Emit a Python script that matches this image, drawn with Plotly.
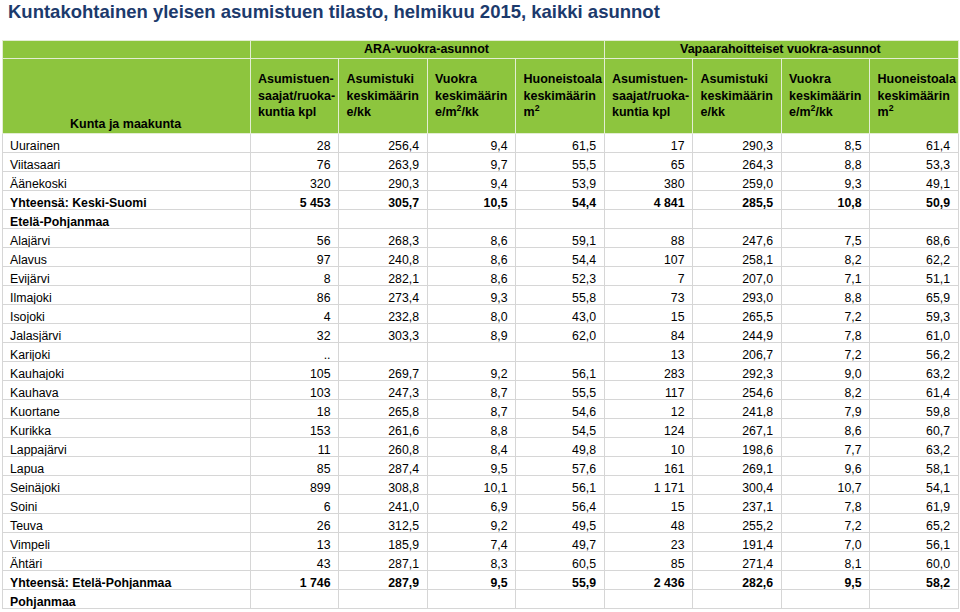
import plotly.graph_objects as go
import plotly.io as pio

W, H = 960, 612

names = ["Uurainen", "Viitasaari", "Äänekoski", "Yhteensä: Keski-Suomi", "Etelä-Pohjanmaa",
         "Alajärvi", "Alavus", "Evijärvi", "Ilmajoki", "Isojoki", "Jalasjärvi", "Karijoki",
         "Kauhajoki", "Kauhava", "Kuortane", "Kurikka", "Lappajärvi", "Lapua", "Seinäjoki",
         "Soini", "Teuva", "Vimpeli", "Ähtäri", "Yhteensä: Etelä-Pohjanmaa", "Pohjanmaa"]
bold_rows = [False, False, False, True, True,
             False, False, False, False, False, False, False,
             False, False, False, False, False, False, False,
             False, False, False, False, True, True]

ara_kpl = [28, 76, 320, 5453, None, 56, 97, 8, 86, 4, 32, "..", 105, 103, 18, 153, 11, 85, 899, 6, 26, 13, 43, 1746, None]
ara_tuki = [256.4, 263.9, 290.3, 305.7, None, 268.3, 240.8, 282.1, 273.4, 232.8, 303.3, None, 269.7, 247.3, 265.8, 261.6, 260.8, 287.4, 308.8, 241.0, 312.5, 185.9, 287.1, 287.9, None]
ara_vuokra = [9.4, 9.7, 9.4, 10.5, None, 8.6, 8.6, 8.6, 9.3, 8.0, 8.9, None, 9.2, 8.7, 8.7, 8.8, 8.4, 9.5, 10.1, 6.9, 9.2, 7.4, 8.3, 9.5, None]
ara_ala = [61.5, 55.5, 53.9, 54.4, None, 59.1, 54.4, 52.3, 55.8, 43.0, 62.0, None, 56.1, 55.5, 54.6, 54.5, 49.8, 57.6, 56.1, 56.4, 49.5, 49.7, 60.5, 55.9, None]
vap_kpl = [17, 65, 380, 4841, None, 88, 107, 7, 73, 15, 84, 13, 283, 117, 12, 124, 10, 161, 1171, 15, 48, 23, 85, 2436, None]
vap_tuki = [290.3, 264.3, 259.0, 285.5, None, 247.6, 258.1, 207.0, 293.0, 265.5, 244.9, 206.7, 292.3, 254.6, 241.8, 267.1, 198.6, 269.1, 300.4, 237.1, 255.2, 191.4, 271.4, 282.6, None]
vap_vuokra = [8.5, 8.8, 9.3, 10.8, None, 7.5, 8.2, 7.1, 8.8, 7.2, 7.8, 7.2, 9.0, 8.2, 7.9, 8.6, 7.7, 9.6, 10.7, 7.8, 7.2, 7.0, 8.1, 9.5, None]
vap_ala = [61.4, 53.3, 49.1, 50.9, None, 68.6, 62.2, 51.1, 65.9, 59.3, 61.0, 56.2, 63.2, 61.4, 59.8, 60.7, 63.2, 58.1, 54.1, 61.9, 65.2, 56.1, 60.0, 58.2, None]

group_labels = ["ARA-vuokra-asunnot", "Vapaarahoitteiset vuokra-asunnot"]
first_col_label = "Kunta ja maakunta"
col_labels = ["Asumistuen-<br>saajat/ruoka-<br>kuntia kpl",
              "Asumistuki<br>keskimäärin<br>e/kk",
              "Vuokra<br>keskimäärin<br>e/m<sup>2</sup>/kk",
              "Huoneistoala<br>keskimäärin<br>m<sup>2</sup>",
              "Asumistuen-<br>saajat/ruoka-<br>kuntia kpl",
              "Asumistuki<br>keskimäärin<br>e/kk",
              "Vuokra<br>keskimäärin<br>e/m<sup>2</sup>/kk",
              "Huoneistoala<br>keskimäärin<br>m<sup>2</sup>"]

NB = "\u00a0"


def fmt_int(v):
    if v is None:
        return ""
    if isinstance(v, str):
        return v
    return f"{v:,}".replace(",", NB)


def fmt_dec(v):
    if v is None:
        return ""
    return f"{v:.1f}".replace(".", ",")


columns = [[n.replace(" ", NB) for n in names],
           [fmt_int(v) for v in ara_kpl], [fmt_dec(v) for v in ara_tuki],
           [fmt_dec(v) for v in ara_vuokra], [fmt_dec(v) for v in ara_ala],
           [fmt_int(v) for v in vap_kpl], [fmt_dec(v) for v in vap_tuki],
           [fmt_dec(v) for v in vap_vuokra], [fmt_dec(v) for v in vap_ala]]
row_weights = ["bold" if b else "normal" for b in bold_rows]
cell_weights = [row_weights for _ in columns]

GREEN = "#8dc53e"
HDR_LINE = "#e3edd3"
FONT = "Liberation Sans, Arial, sans-serif"
x0, x1 = 2 / W, 958 / W

fig = go.Figure()

# main table (column headers + body)
fig.add_trace(go.Table(
    domain=dict(x=[x0, x1], y=[0, 1 - 48 / H]),
    columnwidth=[248] + [88.5] * 8,
    header=dict(values=[""] + [f"{NB}<br><b>{c}</b>" for c in col_labels],
                fill_color=GREEN, line_color=HDR_LINE, line_width=1,
                align="left", height=85,
                font=dict(family=FONT, size=12.5, color="black")),
    cells=dict(values=columns, fill_color="white", line_color="#d6d6d6", line_width=1,
               align=["left"] + ["right"] * 8, height=19,
               font=dict(family=FONT, size=12.3, color="black")),
))

# group header row (cells only, labels as annotations)
fig.add_trace(go.Table(
    domain=dict(x=[x0, x1], y=[1 - 59 / H, 1 - 40 / H]),
    columnwidth=[248, 354, 354],
    header=dict(values=["", "", ""], fill_color=GREEN, line_color=HDR_LINE, line_width=1,
                height=18),
    cells=dict(values=[[""], [""], [""]], height=1, fill_color=HDR_LINE, line_color=HDR_LINE),
))

fig.add_annotation(text=f"<b>{first_col_label}</b>", xref="paper", yref="paper",
                   x=126 / W, y=1 - 124 / H, xanchor="center", yanchor="middle",
                   showarrow=False, font=dict(family=FONT, size=12.5, color="black"))
for lbl, cx in zip(group_labels, [427, 781]):
    fig.add_annotation(text=f"<b>{lbl}</b>", xref="paper", yref="paper",
                       x=cx / W, y=1 - 49 / H, xanchor="center", yanchor="middle",
                       showarrow=False, font=dict(family=FONT, size=12.5, color="black"))

fig.update_layout(
    width=W, height=H,
    margin=dict(l=0, r=0, t=0, b=0),
    paper_bgcolor="white",
    title=dict(text="<b>Kuntakohtainen yleisen asumistuen tilasto, helmikuu 2015, kaikki asunnot</b>",
               x=8 / W, xanchor="left", y=1 - 12 / H, yanchor="middle",
               font=dict(family=FONT, size=18.5, color="#1c3a6c")),
)

# per-cell font weight (2-D, column x row) is understood by plotly.js but not by the
# python validator, so it is attached to the figure dict directly.
fig_dict = fig.to_dict()
fig_dict["data"][0]["cells"]["font"]["weight"] = cell_weights

pio.write_html(fig_dict, "out.html", validate=False, config={"displayModeBar": False},
               post_script="document.body.style.margin='0px';")
